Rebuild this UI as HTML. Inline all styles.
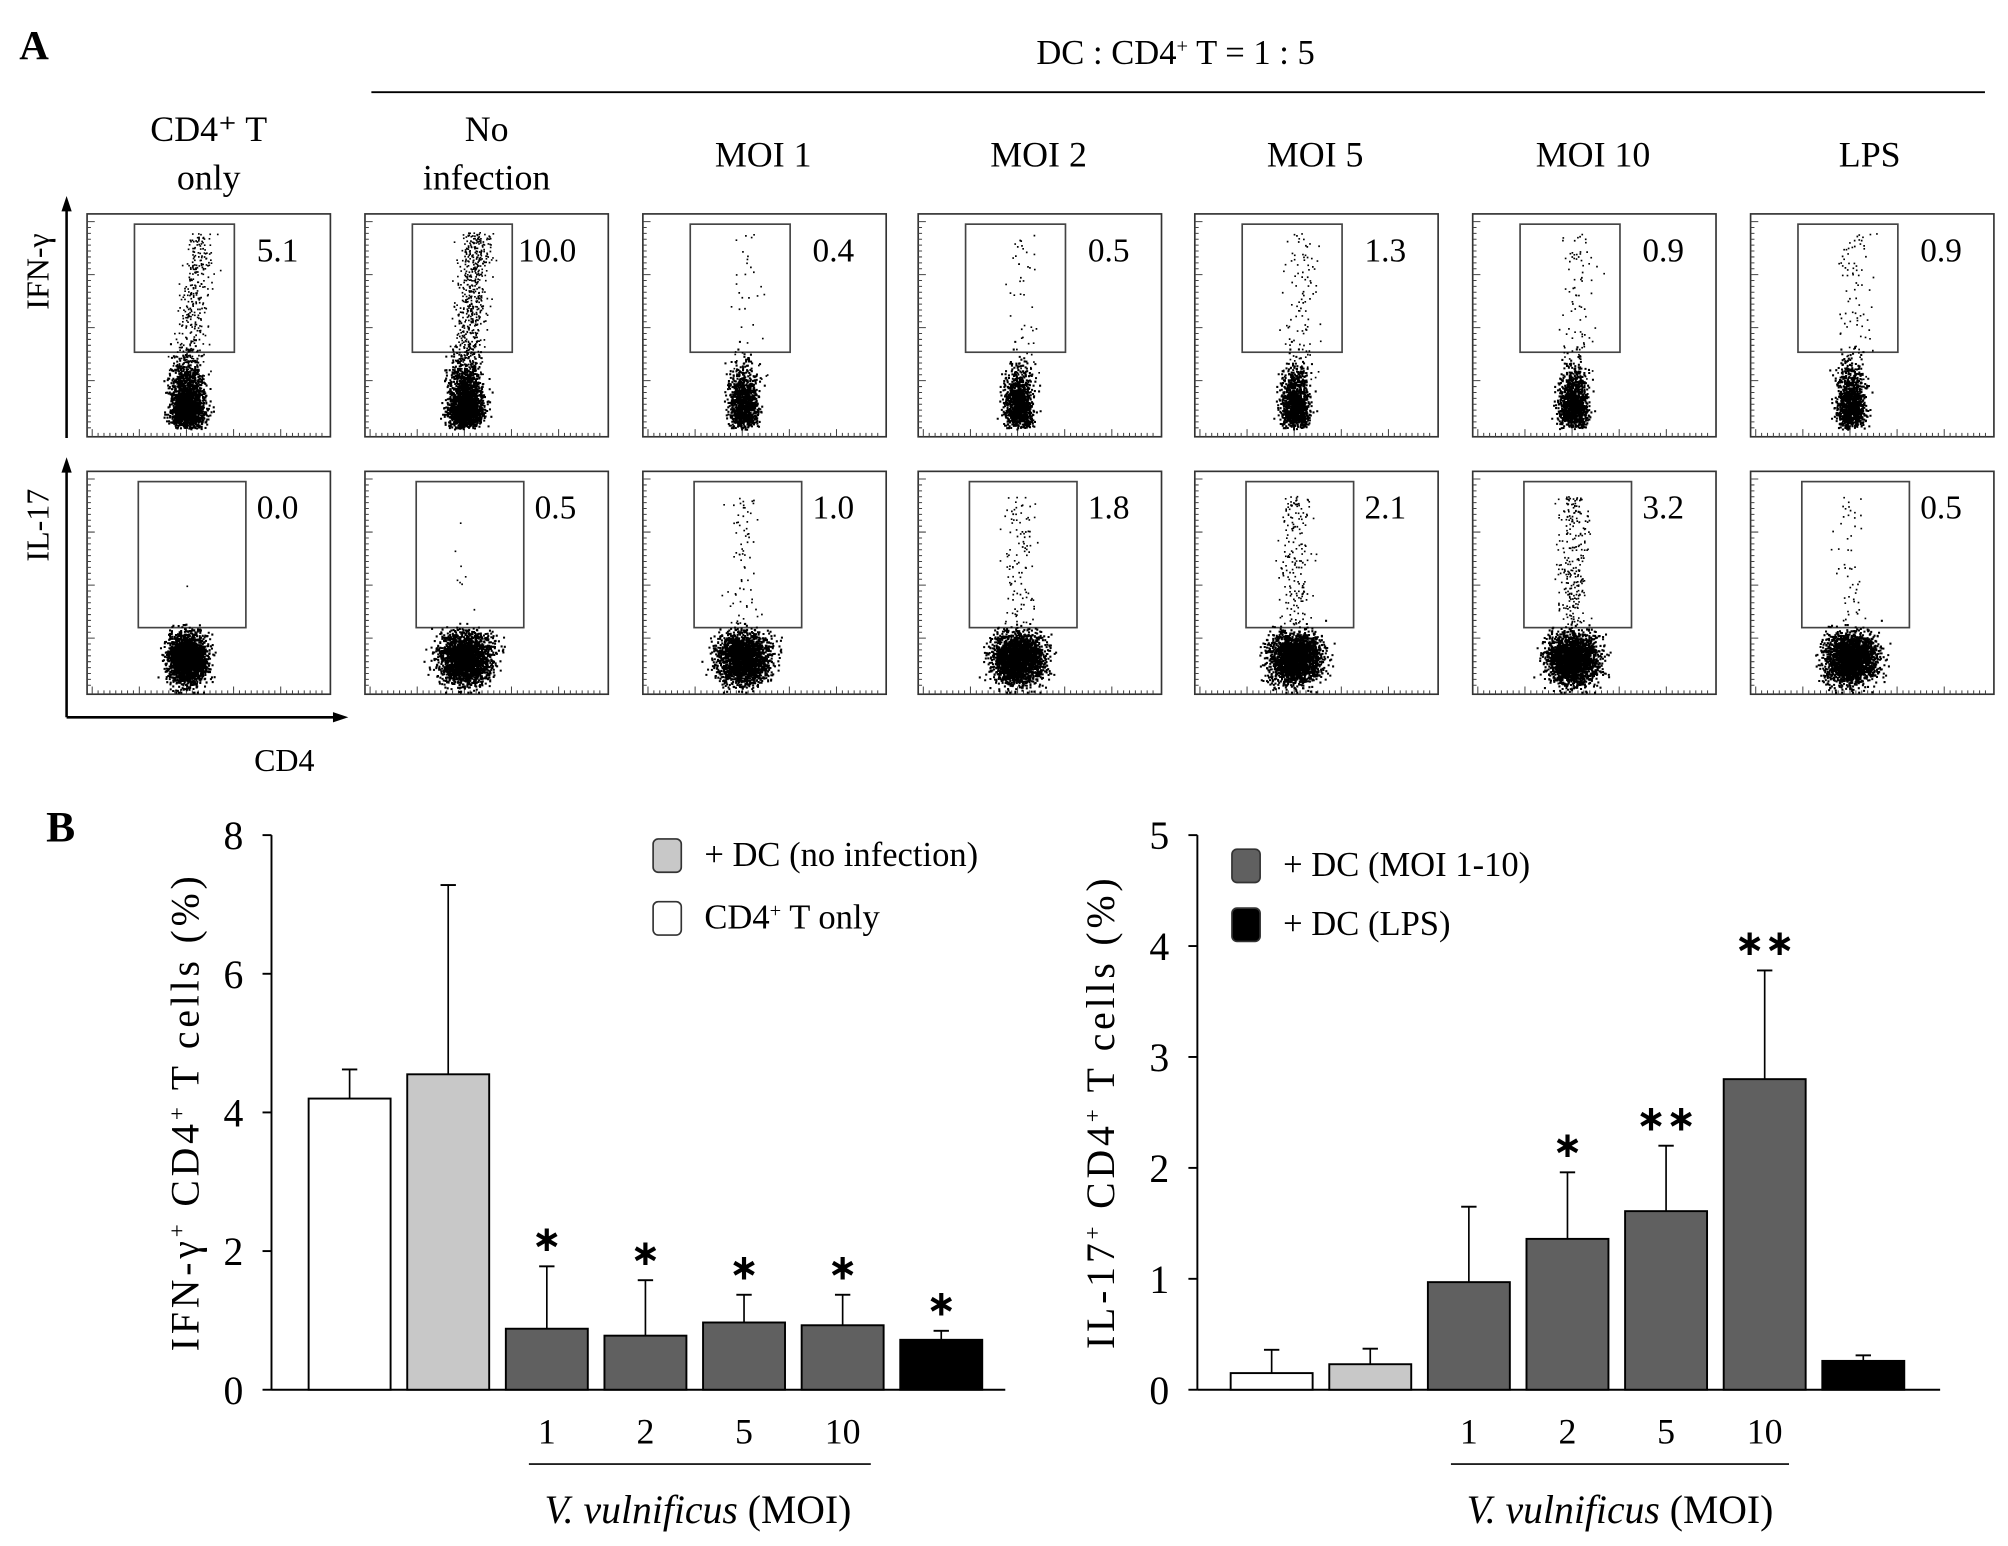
<!DOCTYPE html>
<html><head><meta charset="utf-8"><style>
html,body{margin:0;padding:0;background:#fff;}
svg{display:block;font-family:"Liberation Serif",serif;}
</style></head><body>
<svg id="fig" width="2008" height="1546" viewBox="0 0 1568 1207" preserveAspectRatio="none" xmlns="http://www.w3.org/2000/svg">
<g id="panelA"></g>
<g id="chartL"></g>
<g id="chartR"></g>
</svg>
<script>
// ---- Bar chart data ----
const ifnValues = [4.2, 4.55, 0.88, 0.78, 0.97, 0.93, 0.72];
const ifnErrors = [4.62, 7.28, 1.78, 1.58, 1.37, 1.37, 0.85];
const ifnStars = ["", "", "*", "*", "*", "*", "*"];
const ifnTicks = [0, 2, 4, 6, 8];
const il17Values = [0.15, 0.23, 0.97, 1.36, 1.61, 2.8, 0.26];
const il17Errors = [0.36, 0.37, 1.65, 1.96, 2.2, 3.78, 0.31];
const il17Stars = ["", "", "", "*", "**", "**", ""];
const il17Ticks = [0, 1, 2, 3, 4, 5];
const moiLabels = ["", "", "1", "2", "5", "10", ""];
const barColors = ["#ffffff", "#c8c8c8", "#606060", "#606060", "#606060", "#606060", "#000000"];
// ---- Flow panel data ----
const colHeaders = [["CD4⁺ T","only"],["No","infection"],["MOI 1"],["MOI 2"],["MOI 5"],["MOI 10"],["LPS"]];
const ifnPercents = ["5.1","10.0","0.4","0.5","1.3","0.9","0.9"];
const il17Percents = ["0.0","0.5","1.0","1.8","2.1","3.2","0.5"];
const ifnGateCounts = [350, 600, 40, 45, 110, 90, 90];
const il17GateCounts = [1, 8, 70, 110, 180, 260, 50];

const NS = "http://www.w3.org/2000/svg";
function mk(parent, tag, attrs, text){
  const e = document.createElementNS(NS, tag);
  for (const k in attrs) e.setAttribute(k, attrs[k]);
  if (text !== undefined) e.textContent = text;
  parent.appendChild(e);
  return e;
}
let seed = 12345;
function rnd(){ seed = (seed * 1103515245 + 12345) % 2147483648; return seed / 2147483648; }
function gauss(){ return (rnd()+rnd()+rnd()+rnd()-2)/0.58; }

// ---------- Panel A ----------
const A = document.getElementById('panelA');
let t;
t = mk(A,'text',{x:15,y:46,'font-size':32,'font-weight':'bold'},'A');
 
t = mk(A,'text',{x:918,y:50,'font-size':27,'text-anchor':'middle'});
t.innerHTML = 'DC : CD4<tspan dy="-9" font-size="16">+</tspan><tspan dy="9"> T = 1 : 5</tspan>';
 
t = mk(A,'line',{x1:290,y1:72,x2:1550,y2:72,stroke:'#000','stroke-width':1.5});
 

const colX = [68, 285, 502, 717, 933, 1150, 1367];
const centers = [163, 380, 596, 811, 1027, 1244, 1460];
colHeaders.forEach((h,i)=>{
  const g = mk(A,'text',{x:centers[i],'font-size':28,'text-anchor':'middle'});
   
  if (h.length===2){
    mk(g,'tspan',{x:centers[i],y:110},h[0]);
    mk(g,'tspan',{x:centers[i],y:148},h[1]);
  } else { g.setAttribute('y',130); g.textContent = h[0]; }
});
t = mk(A,'line',{x1:52,y1:342,x2:52,y2:162,stroke:'#000','stroke-width':2});  
mk(A,'polygon',{points:'52,153 48,165 56,165',fill:'#000'});
t = mk(A,'line',{x1:52,y1:560,x2:52,y2:366,stroke:'#000','stroke-width':2});  
mk(A,'polygon',{points:'52,357 48,369 56,369',fill:'#000'});
t = mk(A,'line',{x1:52,y1:560,x2:262,y2:560,stroke:'#000','stroke-width':2});  
mk(A,'polygon',{points:'272,560 260,556 260,564',fill:'#000'});
t = mk(A,'text',{x:0,y:0,'font-size':25,'text-anchor':'middle',transform:'translate(38,212) rotate(-90)'},'IFN-γ');  
t = mk(A,'text',{x:0,y:0,'font-size':25,'text-anchor':'middle',transform:'translate(38,410) rotate(-90)'},'IL-17');  
t = mk(A,'text',{x:222,y:602,'font-size':25,'text-anchor':'middle'},'CD4');  

function flowPanel(px, py, row, pct, gateN, idx){
  const g = mk(A,'g',{});
   
  const W=190, H=174;
  mk(g,'rect',{x:px,y:py,width:W,height:H,fill:'none',stroke:'#333','stroke-width':1.3});
  let tk='';
  for(let k=0;k<40;k++){ const xx=px+4+k*4.6; tk+=`M${xx},${py+H}v${k%8===0?-6:-3}`; }
  for(let k=0;k<36;k++){ const yy=py+6+k*4.6; tk+=`M${px},${yy}h${k%9===0?6:3}`; }
  mk(g,'path',{d:tk,stroke:'#444','stroke-width':0.8,fill:'none'});
  let gx,gy,gw,gh;
  if(row===0){ gx=px+37; gy=py+8; gw=78; gh=100; } else { gx=px+40; gy=py+8; gw=84; gh=114; }
  mk(g,'rect',{x:gx,y:gy,width:gw,height:gh,fill:'none',stroke:'#444','stroke-width':1.3});
  const nt = mk(g,'text',{x:px+W-25,y:py+37,'font-size':26,'text-anchor':'end'},pct);
   
  let d='';
  const cx = px+78;
  if(row===0){
    const n = idx<2 ? 1800 : 1100;
    const spread = idx<2 ? 7 : 5.5;
    for(let k=0;k<n;k++){
      const y = py+H-6-Math.abs(gauss())*20 - rnd()*12;
      const x = cx + gauss()*spread;
      d+=`M${x.toFixed(1)},${Math.min(y,py+H-2).toFixed(1)}h1.6v1.6h-1.6z`;
    }
    const top = py+14, bot = py+H-45;
    for(let k=0;k<gateN;k++){
      const f = rnd();
      const y = bot - f*(bot-top);
      const x = cx + (idx<2?f*10:4) + gauss()*(idx<2?6:7);
      d+=`M${x.toFixed(1)},${y.toFixed(1)}h1.3v1.3h-1.3z`;
    }
  } else {
    const n = 2200;
    const sx = idx===0?9:12;
    for(let k=0;k<n;k++){
      const x = cx + gauss()*sx*0.85;
      const y = py+H-28 + gauss()*10;
      d+=`M${x.toFixed(1)},${Math.min(y,py+H-2).toFixed(1)}h1.6v1.6h-1.6z`;
    }
    for(let k=0;k<gateN;k++){
      const y = py+H-55 - rnd()*100;
      const x = cx + gauss()*6.5;
      d+=`M${x.toFixed(1)},${y.toFixed(1)}h1.3v1.3h-1.3z`;
    }
  }
  mk(g,'path',{d:d,fill:'#000'});
}
colX.forEach((x,i)=>{
  flowPanel(x,167,0,ifnPercents[i],ifnGateCounts[i],i);
  flowPanel(x,368,1,il17Percents[i],il17GateCounts[i],i);
});

// ---------- Panel B ----------
function barChart(root, opts){
  const {axisX, xEnd, y0, yTop, maxV, ticks, values, errors, stars, barX0, titleX, titleHTML, lineX1, lineX2, labelCenter} = opts;
  const yScale = v => y0 - (v/maxV)*(y0-yTop);
  const xPos = i => barX0 + i*77;
  let e;
  e = mk(root,'line',{x1:axisX,y1:y0,x2:axisX,y2:yTop,stroke:'#000','stroke-width':1.5});  
  e = mk(root,'line',{x1:axisX,y1:y0,x2:xEnd,y2:y0,stroke:'#000','stroke-width':1.5});  
  ticks.forEach(tv=>{
    const y = yScale(tv);
    mk(root,'line',{x1:axisX-7,y1:y,x2:axisX,y2:y,stroke:'#000','stroke-width':1.5});
    const tl = mk(root,'text',{x:axisX-22,y:y+11,'font-size':31,'text-anchor':'end'},String(tv));
     
  });
  values.forEach((v,i)=>{
    const cx = xPos(i);
    const ye = yScale(errors[i]);
    mk(root,'line',{x1:cx,y1:yScale(v),x2:cx,y2:ye,stroke:'#000','stroke-width':1.3});
    mk(root,'line',{x1:cx-6,y1:ye,x2:cx+6,y2:ye,stroke:'#000','stroke-width':1.5});
    const b = mk(root,'rect',{x:cx-32,y:yScale(v),width:64,height:y0-yScale(v),fill:barColors[i],stroke:'#000','stroke-width':1.5});
     
    if(stars[i]){
      const s = mk(root,'text',{x:cx,y:ye-12,'font-size':28,'font-weight':'bold','text-anchor':'middle','font-family':'"DejaVu Sans",sans-serif'},stars[i].replace(/\*/g,'∗'));
       
    }
    if(moiLabels[i]){
      const l = mk(root,'text',{x:cx,y:y0+42,'font-size':28,'text-anchor':'middle'},moiLabels[i]);
       
    }
  });
  e = mk(root,'line',{x1:lineX1,y1:y0+58,x2:lineX2,y2:y0+58,stroke:'#000','stroke-width':1.3});  
  e = mk(root,'text',{x:labelCenter,y:y0+104,'font-size':31,'text-anchor':'middle'});
  e.innerHTML = '<tspan font-style="italic">V. vulnificus</tspan> (MOI)';
   
  e = mk(root,'text',{x:0,y:0,'font-size':31,'text-anchor':'middle','letter-spacing':3,transform:`translate(${titleX},868) rotate(-90)`});
  e.innerHTML = titleHTML;
   
}
const L = document.getElementById('chartL');
t = mk(L,'text',{x:36,y:657,'font-size':34,'font-weight':'bold'},'B');  
barChart(L,{axisX:212,xEnd:785,y0:1085,yTop:652,maxV:8,ticks:ifnTicks,values:ifnValues,errors:ifnErrors,stars:ifnStars,barX0:273,titleX:155,
  titleHTML:'IFN-γ<tspan dy="-11" font-size="18">+</tspan><tspan dy="11"> CD4</tspan><tspan dy="-11" font-size="18">+</tspan><tspan dy="11"> T cells (%)</tspan>',lineX1:413,lineX2:680,labelCenter:545});
const R = document.getElementById('chartR');
barChart(R,{axisX:935,xEnd:1515,y0:1085,yTop:652,maxV:5,ticks:il17Ticks,values:il17Values,errors:il17Errors,stars:il17Stars,barX0:993,titleX:870,
  titleHTML:'IL-17<tspan dy="-11" font-size="18">+</tspan><tspan dy="11"> CD4</tspan><tspan dy="-11" font-size="18">+</tspan><tspan dy="11"> T cells (%)</tspan>',lineX1:1133,lineX2:1397,labelCenter:1265});

function legend(root,x,y,fill,html,name){
  const g = mk(root,'g',{});
   
  mk(g,'rect',{x:x,y:y,width:22,height:26,rx:4,fill:fill,stroke:'#333','stroke-width':1.3});
  const tx = mk(g,'text',{x:x+40,y:y+21,'font-size':27});
  tx.innerHTML = html;
}
legend(L,510,655,'#c8c8c8','+ DC (no infection)','legend-no-infection');
legend(L,510,704,'#ffffff','CD4<tspan dy="-9" font-size="16">+</tspan><tspan dy="9"> T only</tspan>','legend-cd4-only');
legend(R,962,663,'#606060','+ DC (MOI 1-10)','legend-moi');
legend(R,962,709,'#000000','+ DC (LPS)','legend-lps');
</script>
</body></html>
